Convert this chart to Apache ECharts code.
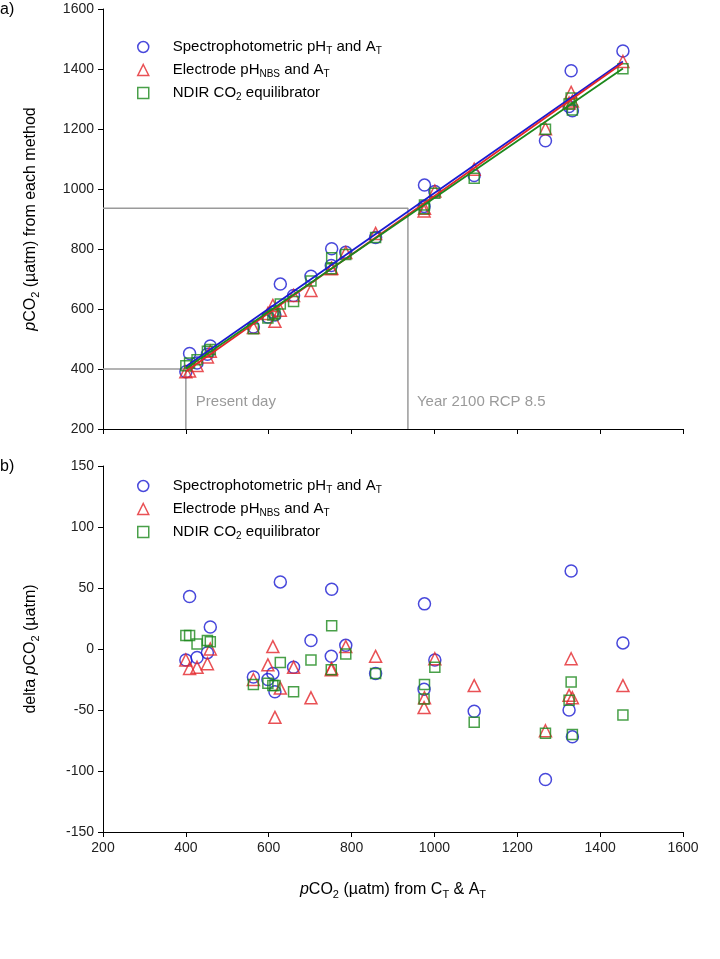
<!DOCTYPE html>
<html><head><meta charset="utf-8">
<script src="https://cdn.jsdelivr.net/npm/echarts@6/dist/echarts.min.js"></script>
<style>html,body{margin:0;padding:0;background:#fff}#c{width:720px;height:959px}</style>
</head><body><div id="c"></div>
<script>
// Reference pCO2 (from CT & AT) for each sample
const refPco2 = [400,409,427,452,459,563,598,610,615,628,660,702,752,751,786,858,976,975,1001,1096,1268,1330,1325,1333,1455];
// Panel a: pCO2 from each method
const pco2Spec = [391,452,420,449,477,540,573,590,580,683,645,709,801,745,789,838,1013,942,992,1045,1161,1394,1275,1261,1460];
const pco2Elec = [391,393,412,440,459,538,585,612,559,596,645,662,736,734,788,852,936,927,993,1066,1201,1322,1287,1293,1425];
const pco2Ndir = [411,420,431,459,465,534,570,580,585,617,625,693,771,734,782,838,947,934,986,1036,1199,1303,1283,1263,1401];
// Panel b: delta pCO2
const deltaSpec = [-9,43,-7,-3,18,-23,-25,-20,-35,55,-15,7,49,-6,3,-20,37,-33,-9,-51,-107,64,-50,-72,5];
const deltaElec = [-9,-16,-15,-12,0,-25,-13,2,-56,-32,-15,-40,-16,-17,2,-6,-40,-48,-8,-30,-67,-8,-38,-40,-30];
const deltaNdir = [11,11,4,7,6,-29,-28,-30,-30,-11,-35,-9,19,-17,-4,-20,-29,-41,-15,-60,-69,-27,-42,-70,-54];
// Regression line end points
const fitSpec = [[400,408],[1455,1425]];
const fitElec = [[400,392],[1455,1420]];
const fitNdir = [[400,402],[1455,1402]];
// Scenario reference lines
const presentDay = 400;
const year2100 = 936;

const C = {spec:'#1a1ad2', elec:'#e3262a', ndir:'#1c881c', grey:'#9a9a9a'};
const FONT = 'Liberation Sans, Arial, sans-serif';
const GL = 103, GW = 580, G1T = 9, G1H = 420, G2T = 466, G2H = 366;

const names = {spec:'Spectrophotometric pH{s|T} and A{s|T}', elec:'Electrode pH{s|NBS} and A{s|T}', ndir:'NDIR CO{s|2} equilibrator'};
const richSub = {s:{fontSize:10, verticalAlign:'bottom', lineHeight:6, fontFamily:FONT, color:'#000'}};
const nameRich = {i:{fontStyle:'italic', fontSize:16, fontFamily:FONT, color:'#000'}, s:{fontSize:11, verticalAlign:'bottom', lineHeight:7, fontFamily:FONT, color:'#000'}};

function pts(xs, ys){ return xs.map((x,i)=>[x, ys[i]]); }
function hollow(c){ return {color:'transparent', borderColor:c, borderWidth:1.5}; }

const sym = {spec:'circle', elec:'triangle', ndir:'rect'};
const size = {spec:12, elec:12, ndir:10};

function scatter(key, data, idx){
  return {name:key, type:'scatter', xAxisIndex:idx, yAxisIndex:idx, symbol:sym[key], symbolSize:size[key],
    itemStyle:hollow(C[key]), data:data, z:3, emphasis:{disabled:true}};
}
function fit(key, data){
  return {name:key, type:'line', xAxisIndex:0, yAxisIndex:0, data:data, symbol:'none',
    lineStyle:{color:C[key], width:1.8}, z:4, silent:true};
}
function legendCfg(top){
  return {orient:'vertical', left:132, top:top, itemWidth:11, itemHeight:11, itemGap:5,
    textStyle:{fontFamily:FONT, fontSize:15, color:'#000', lineHeight:18, padding:[0,0,0,19], rich:richSub},
    formatter:n=>names[n],
    data:['spec','elec','ndir'].map(k=>({name:k, icon:sym[k], itemStyle:hollow(C[k])}))};
}
const lab = {fontFamily:FONT, fontSize:14, color:'#222', margin:9, formatter:v=>String(v)};
const axisCommon = {axisLine:{onZero:false, lineStyle:{color:'#000', width:1}}, axisTick:{inside:false, length:5, lineStyle:{color:'#000'}},
  splitLine:{show:false}};

const option = {
  animation:false,
  backgroundColor:'#fff',
  grid:[{left:GL, top:G1T, width:GW, height:G1H}, {left:GL, top:G2T, width:GW, height:G2H}],
  legend:[legendCfg(33), legendCfg(472)],
  xAxis:[
    Object.assign({}, axisCommon, {gridIndex:0, type:'value', min:200, max:1600, interval:200, axisLabel:{show:false}}),
    Object.assign({}, axisCommon, {gridIndex:1, type:'value', min:200, max:1600, interval:200, axisLabel:lab,
      name:'{i|p}CO{s|2} (µatm) from C{s|T} & A{s|T}', nameLocation:'middle', nameGap:48,
      nameTextStyle:{fontFamily:FONT, fontSize:16, color:'#000', lineHeight:20, rich:nameRich}})
  ],
  yAxis:[
    Object.assign({}, axisCommon, {gridIndex:0, type:'value', min:200, max:1600, interval:200, axisLabel:lab,
      name:'{i|p}CO{s|2} (µatm) from each method', nameLocation:'middle', nameGap:62, nameRotate:90,
      nameTextStyle:{fontFamily:FONT, fontSize:16, color:'#000', lineHeight:20, rich:nameRich}}),
    Object.assign({}, axisCommon, {gridIndex:1, type:'value', min:-150, max:150, interval:50, axisLabel:lab,
      name:'delta {i|p}CO{s|2} (µatm)', nameLocation:'middle', nameGap:62, nameRotate:90,
      nameTextStyle:{fontFamily:FONT, fontSize:16, color:'#000', lineHeight:20, rich:nameRich}})
  ],
  series:[
    {type:'line', xAxisIndex:0, yAxisIndex:0, symbol:'none', silent:true, z:1,
      lineStyle:{color:C.grey, width:1.5}, data:[[200,presentDay],[presentDay,presentDay],[presentDay,200]]},
    {type:'line', xAxisIndex:0, yAxisIndex:0, symbol:'none', silent:true, z:1,
      lineStyle:{color:C.grey, width:1.5}, data:[[200,year2100],[year2100,year2100],[year2100,200]]},
    scatter('spec', pts(refPco2, pco2Spec), 0),
    scatter('elec', pts(refPco2, pco2Elec), 0),
    scatter('ndir', pts(refPco2, pco2Ndir), 0),
    fit('spec', fitSpec), fit('elec', fitElec), fit('ndir', fitNdir),
    scatter('spec', pts(refPco2, deltaSpec), 1),
    scatter('elec', pts(refPco2, deltaElec), 1),
    scatter('ndir', pts(refPco2, deltaNdir), 1)
  ]
};
const chart = echarts.init(document.getElementById('c'), null, {renderer:'canvas'});
chart.setOption(option);
const p1 = chart.convertToPixel({gridIndex:0}, [presentDay, 290]);
const p2 = chart.convertToPixel({gridIndex:0}, [year2100, 290]);
chart.setOption({graphic:[
  {type:'text', left:0, top:2, style:{text:'a)', fontFamily:FONT, fontSize:16, fill:'#000'}},
  {type:'text', left:0, top:459, style:{text:'b)', fontFamily:FONT, fontSize:16, fill:'#000'}},
  {type:'text', x:p1[0]+10, y:p1[1], style:{text:'Present day', fontFamily:FONT, fontSize:15, fill:C.grey, verticalAlign:'middle'}},
  {type:'text', x:p2[0]+9, y:p2[1], style:{text:'Year 2100 RCP 8.5', fontFamily:FONT, fontSize:15, fill:C.grey, verticalAlign:'middle'}}
]});
</script></body></html>
